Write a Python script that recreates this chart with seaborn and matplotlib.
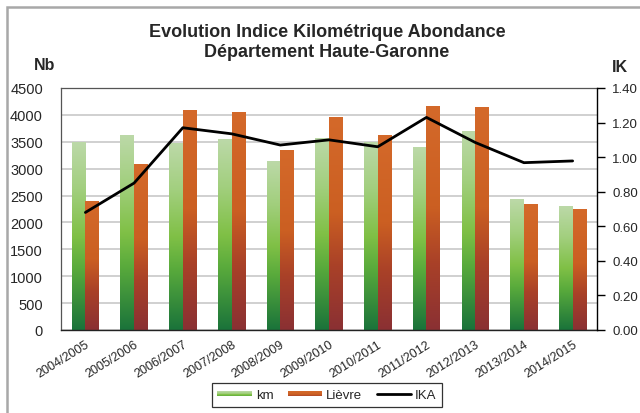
import numpy as np
import pandas as pd
import matplotlib
matplotlib.use("Agg")
import matplotlib.pyplot as plt
import seaborn as sns
from matplotlib.colors import LinearSegmentedColormap
from matplotlib.patches import Rectangle
from matplotlib.lines import Line2D
from matplotlib.legend_handler import HandlerBase

# ---------------- data ----------------
saisons = ["2004/2005", "2005/2006", "2006/2007", "2007/2008", "2008/2009",
           "2009/2010", "2010/2011", "2011/2012", "2012/2013", "2013/2014",
           "2014/2015"]
km = [3480, 3610, 3465, 3535, 3125, 3570, 3485, 3390, 3695, 2435, 2295]
lievre = [2390, 3085, 4080, 4040, 3335, 3955, 3625, 4165, 4130, 2335, 2240]
ika = [0.68, 0.85, 1.17, 1.135, 1.07, 1.10, 1.06, 1.23, 1.085, 0.968, 0.978]
series_names = ["km", "Lièvre"]
left_ticks = list(range(0, 4501, 500))
right_ticks = [0.0, 0.2, 0.4, 0.6, 0.8, 1.0, 1.2, 1.4]

df = pd.DataFrame({
    "Saison": saisons * 2,
    "Valeur": km + lievre,
    "Série": [series_names[0]] * len(saisons) + [series_names[1]] * len(saisons),
})

# gradient colour stops (bottom -> top)
km_cmap = LinearSegmentedColormap.from_list(
    "km", [(0.0, "#1a733a"), (0.33, "#5aab3c"), (0.5, "#80c046"),
           (0.75, "#a2cf7e"), (1.0, "#bcd9a8")])
lv_cmap = LinearSegmentedColormap.from_list(
    "lv", [(0.0, "#8a3033"), (0.3, "#a94128"), (0.55, "#cb5f22"),
           (1.0, "#d4692a")])
cmaps = [km_cmap, lv_cmap]

sns.set_style("white")
plt.rcParams["font.family"] = ["Liberation Sans", "DejaVu Sans"]

fig = plt.figure(figsize=(6.4, 4.14), dpi=100)
ax = fig.add_axes([61 / 640, 1 - 331 / 414, (597 - 61) / 640, (331 - 89) / 414])

sns.barplot(data=df, x="Saison", y="Valeur", hue="Série", order=saisons,
            hue_order=series_names, palette=["#80c046", "#cb5f22"],
            width=0.56, dodge=True, ax=ax, legend=False, zorder=2,
            linewidth=0, saturation=1)

ax.set_ylim(0, 4500)
ax.set_xlim(-0.5, len(saisons) - 0.5)
xlim = ax.get_xlim()

grad = np.linspace(1, 0, 256).reshape(-1, 1)
for cont, cmap in zip(ax.containers, cmaps):
    for bar in cont:
        x0, y0 = bar.get_x(), bar.get_y()
        w, h = bar.get_width(), bar.get_height()
        ax.imshow(grad, cmap=cmap, extent=[x0, x0 + w, y0, y0 + h],
                  aspect="auto", zorder=2.1, interpolation="bilinear",
                  vmin=0, vmax=1)
        bar.set_facecolor("none")
ax.set_xlim(xlim)
ax.set_ylim(0, 4500)
ax.set_aspect("auto")

ax.set_yticks(left_ticks)
ax.set_yticklabels([str(t) for t in left_ticks], fontsize=10.5)
ax.yaxis.grid(True, color="#c4c4c4", linewidth=1.1, zorder=0)
ax.set_axisbelow(True)
ax.tick_params(axis="y", length=0, pad=13)
ax.set_xticks(range(len(saisons)))
ax.set_xticklabels(saisons, rotation=32, ha="right", fontsize=9,
                   rotation_mode="anchor")
ax.tick_params(axis="x", length=0, pad=6)
ax.set_xlabel("")
ax.set_ylabel("")
for s in ["top", "left"]:
    ax.spines[s].set_color("#555555")
    ax.spines[s].set_linewidth(0.9)
ax.spines["bottom"].set_color("#222222")
ax.spines["bottom"].set_linewidth(1.0)
ax.spines["right"].set_visible(False)

# IKA line on secondary axis
ax2 = ax.twinx()
sns.lineplot(x=np.arange(len(saisons)), y=ika, ax=ax2, color="black",
             linewidth=2.0, zorder=5)
ax2.set_ylim(0, 1.4)
ax2.set_xlim(xlim)
ax2.set_yticks(right_ticks)
ax2.set_yticklabels([f"{t:.2f}" for t in right_ticks], fontsize=9.5)
ax2.tick_params(axis="y", length=6, width=1, direction="out", pad=5,
                color="black")
ax2.spines["right"].set_color("black")
ax2.spines["right"].set_linewidth(1.0)
for s in ["top", "left", "bottom"]:
    ax2.spines[s].set_visible(False)
ax2.grid(False)

# titles
fig.text(327 / 640, 1 - 37 / 414, "Evolution Indice Kilométrique Abondance",
         ha="center", va="baseline", fontsize=13, fontweight="bold")
fig.text(327 / 640, 1 - 57 / 414, "Département Haute-Garonne",
         ha="center", va="baseline", fontsize=13, fontweight="bold")
fig.text(45 / 640, 1 - 65 / 414, "Nb", ha="center", va="center",
         fontsize=11.5, fontweight="bold")
fig.text(620 / 640, 1 - 68 / 414, "IK", ha="center", va="center",
         fontsize=11.5, fontweight="bold")

# outer frame
fig.patches.append(Rectangle((7 / 640, -0.05), 1.1, 1 - 8 / 414 + 0.05,
                             transform=fig.transFigure, fill=False,
                             edgecolor="#a8a8a8", linewidth=1.8))


# legend with gradient swatches
class GradHandler(HandlerBase):
    def __init__(self, cmap):
        super().__init__()
        self.cmap = cmap

    def create_artists(self, legend, orig_handle, xdescent, ydescent, width,
                       height, fontsize, trans):
        arts = []
        n = 6
        hh = height * 0.55
        yb = -ydescent + (height - hh) / 2
        for i in range(n):
            c = self.cmap(0.35 + 0.65 * (i + 0.5) / n)
            arts.append(Rectangle((-xdescent, yb + hh * i / n), width, hh / n,
                                  facecolor=c, edgecolor="none",
                                  transform=trans))
        return arts


h_km = Rectangle((0, 0), 1, 1)
h_lv = Rectangle((0, 0), 1, 1, label="lv")
h_ika = Line2D([0], [0], color="black", linewidth=2)
leg = fig.legend([h_km, h_lv, h_ika], ["km", "Lièvre", "IKA"],
                 handler_map={h_km: GradHandler(km_cmap),
                              h_lv: GradHandler(lv_cmap)},
                 loc="center", bbox_to_anchor=(327 / 640, 1 - 396 / 414),
                 ncol=3, fontsize=9.5, frameon=True, fancybox=False,
                 handlelength=2.6, handletextpad=0.3, columnspacing=1.1,
                 borderpad=0.45)
leg.get_frame().set_edgecolor("black")
leg.get_frame().set_linewidth(0.9)

fig.savefig("out.png", dpi=100, facecolor="white")
